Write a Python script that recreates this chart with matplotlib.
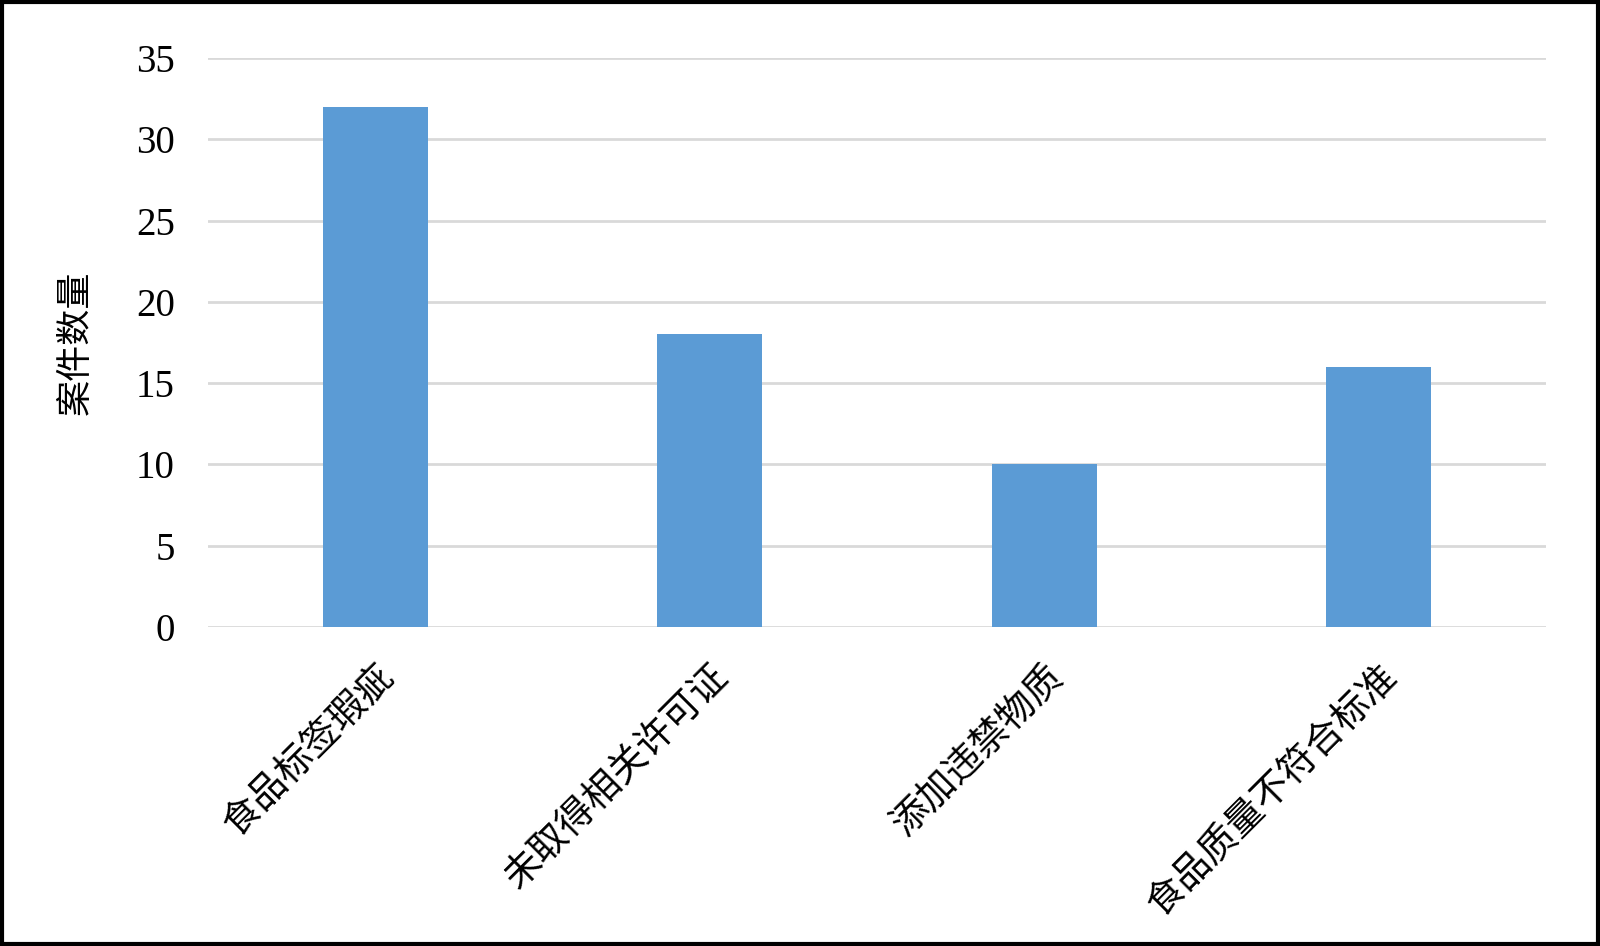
import matplotlib.pyplot as plt
from matplotlib.patches import Rectangle

categories = ['食品标签瑕疵', '未取得相关许可证', '添加违禁物质', '食品质量不符合标准']
counts = [32, 18, 10, 16]
yticks = [0, 5, 10, 15, 20, 25, 30, 35]

cjk = ['Noto Sans CJK SC', 'DejaVu Sans']
num = ['Liberation Serif', 'DejaVu Serif']

fig = plt.figure(figsize=(16, 9.46), dpi=100)
ax = fig.add_axes([208/1600, 1 - 627/946, (1546-208)/1600, (627-58)/946])

x = range(len(categories))
ax.bar(x, counts, width=0.314, color='#5B9BD5', zorder=3)
ax.set_xlim(-0.5, len(categories) - 0.5)
ax.set_ylim(0, 35)
ax.set_yticks(yticks)
ax.set_yticklabels([str(v) for v in yticks], family=num, fontsize=28)
ax.set_xticks(list(x))
ax.set_xticklabels(categories, family=cjk, fontsize=27, rotation=45,
                   ha='right', va='top', rotation_mode='anchor')
ax.tick_params(axis='both', length=0)
ax.tick_params(axis='y', pad=24)
ax.tick_params(axis='x', pad=22)
ax.grid(axis='y', color='#d9d9d9', linewidth=2, zorder=0)
for s in ax.spines.values():
    s.set_visible(False)
ax.set_ylabel('案件数量', family=cjk, fontsize=26, labelpad=30)

# outer frame
fig.patches.append(Rectangle((2/1600, 2/946), 1 - 4/1600, 1 - 4/946,
                             transform=fig.transFigure, fill=False,
                             edgecolor='black', linewidth=3))

fig.savefig('out.png', dpi=100)
